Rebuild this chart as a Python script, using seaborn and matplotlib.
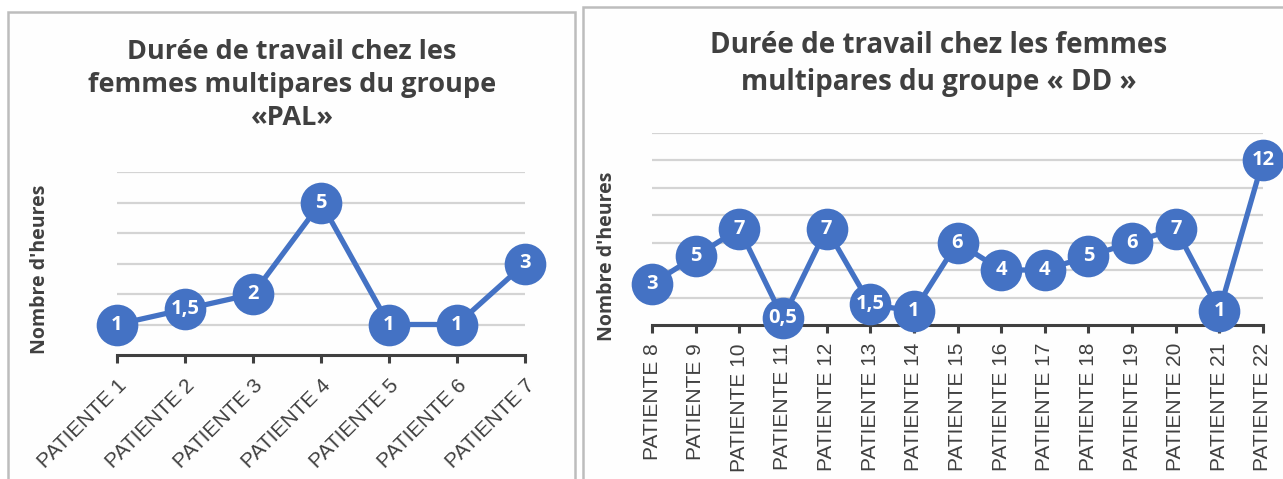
import matplotlib
matplotlib.use("Agg")
import matplotlib.pyplot as plt
from matplotlib.patches import Rectangle
import seaborn as sns
import pandas as pd

# data
pal_patients = ["PATIENTE 1", "PATIENTE 2", "PATIENTE 3", "PATIENTE 4",
                "PATIENTE 5", "PATIENTE 6", "PATIENTE 7"]
pal_hours = [1, 1.5, 2, 5, 1, 1, 3]

dd_patients = ["PATIENTE 8", "PATIENTE 9", "PATIENTE 10", "PATIENTE 11",
               "PATIENTE 12", "PATIENTE 13", "PATIENTE 14", "PATIENTE 15",
               "PATIENTE 16", "PATIENTE 17", "PATIENTE 18", "PATIENTE 19",
               "PATIENTE 20", "PATIENTE 21", "PATIENTE 22"]
dd_hours = [3, 5, 7, 0.5, 7, 1.5, 1, 6, 4, 4, 5, 6, 7, 1, 12]

pal_title = "Durée de travail chez les\nfemmes multipares du groupe\n«PAL»"
dd_title = "Durée de travail chez les femmes\nmultipares du groupe « DD »"
ylabel = "Nombre d'heures"

sns.set_style("white")
plt.rcParams['font.family'] = ['Open Sans', 'DejaVu Sans']

BLUE = "#4472C4"
DARK = "#404040"
GRID = "#D4D4D4"
W, H = 1283, 479

fig = plt.figure(figsize=(W / 100, H / 100), dpi=100)
fig.patch.set_facecolor("white")


def px_box(x0, x1, ytop, ybot):
    # convert pixel box (from top-left) to figure fractions
    return [x0 / W, 1 - ybot / H, (x1 - x0) / W, (ybot - ytop) / H]


# panel frames (behind the axes)
fig.patches.append(Rectangle((8 / W, -0.05), (575 - 8) / W, 1.05 - 12 / H,
                             transform=fig.transFigure, fill=True, zorder=-5,
                             facecolor="#FEFEFE", edgecolor="#BDBDBD", lw=1.8))
fig.patches.append(Rectangle((583 / W, -0.05), 0.6, 1.05 - 7 / H,
                             transform=fig.transFigure, fill=True, zorder=-5,
                             facecolor="#FEFEFE", edgecolor="#BDBDBD", lw=1.8))


def draw(ax, patients, hours, ymax, ystep, rot, tick_size, msize):
    df = pd.DataFrame({"patient": patients, "hours": hours})
    sns.lineplot(data=df, x="patient", y="hours", ax=ax, color=BLUE,
                 linewidth=3.8, marker="o", markersize=msize,
                 markeredgewidth=0, clip_on=False, sort=False, zorder=3)
    ax.set_facecolor("none")
    ax.set_xlim(0, len(patients) - 1)
    ax.set_ylim(0, ymax)
    ax.set_yticks(range(ystep, ymax + 1, ystep))
    ax.yaxis.grid(True, color=GRID, lw=1.6)
    ax.tick_params(axis="y", left=False, labelleft=False)
    for s in ["top", "right", "left"]:
        ax.spines[s].set_visible(False)
    ax.spines["bottom"].set_color(DARK)
    ax.spines["bottom"].set_linewidth(2.2)
    ax.spines["bottom"].set_zorder(1)
    ax.tick_params(axis="x", direction="out", length=6, width=2.2,
                   color=DARK, bottom=True)
    ax.set_xlabel("")
    ax.set_ylabel("")
    ax.set_xticks(range(len(patients)))
    if rot == 45:
        ax.set_xticklabels(patients, rotation=45, ha="right",
                           rotation_mode="anchor", fontsize=tick_size,
                           family="Liberation Sans", color=DARK)
        ax.tick_params(axis="x", pad=9)
    else:
        ax.set_xticklabels(patients, rotation=90, ha="center", va="top",
                           fontsize=tick_size, family="Liberation Sans",
                           color=DARK)
        ax.tick_params(axis="x", pad=7)
    for i, v in enumerate(hours):
        lab = f"{v:g}".replace(".", ",")
        ax.text(i, v, lab, ha="center", va="center", color="white",
                fontsize=14.5, fontweight="bold", zorder=5, clip_on=False)


ax1 = fig.add_axes(px_box(117, 525, 172, 355))
draw(ax1, pal_patients, pal_hours, 6, 1, 45, 15, 30)

ax2 = fig.add_axes(px_box(652, 1263, 132.5, 325))
draw(ax2, dd_patients, dd_hours, 14, 2, 90, 15, 30)

# titles
fig.text(292 / W, 1 - 85 / H, pal_title, ha="center", va="center",
         fontsize=19.5, fontweight="bold", color=DARK, linespacing=1.35)
fig.text(939 / W, 1 - 64 / H, dd_title, ha="center", va="center",
         fontsize=20, fontweight="bold", color=DARK, linespacing=1.35)

# y labels
fig.text(40 / W, 1 - 269 / H, ylabel, rotation=90, ha="center", va="center",
         fontsize=14, fontweight="bold", color=DARK)
fig.text(607 / W, 1 - 256 / H, ylabel, rotation=90, ha="center", va="center",
         fontsize=14, fontweight="bold", color=DARK)

fig.savefig("out.png", dpi=100)
